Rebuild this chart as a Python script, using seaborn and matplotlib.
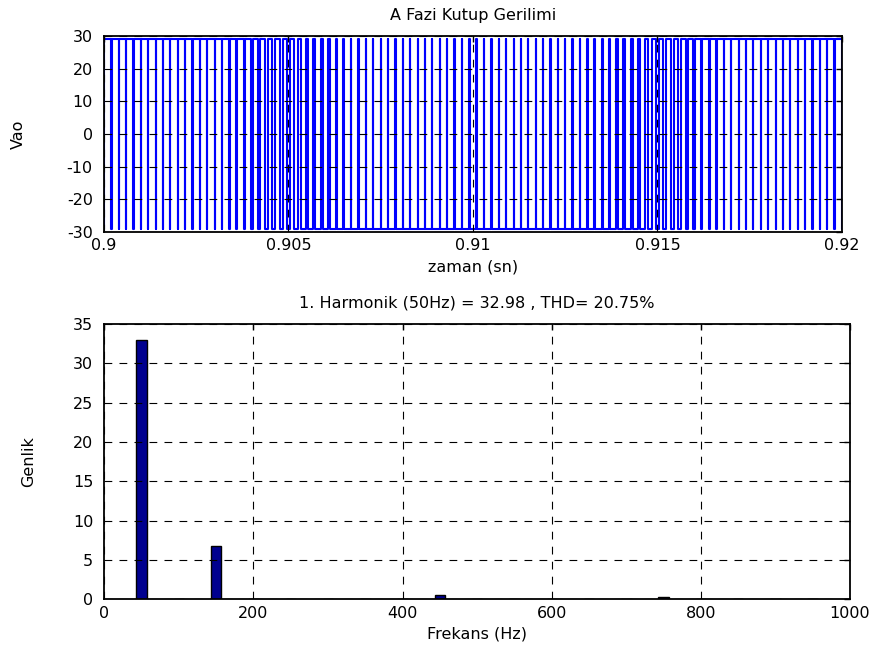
import numpy as np
import pandas as pd
import matplotlib
matplotlib.use("Agg")
import matplotlib.pyplot as plt
import seaborn as sns

# Pole voltage window (one 50 Hz period) and DC half-bus level
t_start, t_end = 0.9, 0.92
v_half = 29.0

# Duty ratio (fraction of time at +Vdc/2) for each 5 kHz carrier period
duty = [
    0.934, 0.948, 0.960, 0.970, 0.978, 0.985, 0.989, 0.992, 0.992, 0.991,
    0.988, 0.983, 0.976, 0.967, 0.956, 0.943, 0.929, 0.887, 0.839, 0.789,
    0.738, 0.686, 0.633, 0.580, 0.527, 0.473, 0.420, 0.367, 0.314, 0.262,
    0.211, 0.161, 0.113, 0.071, 0.057, 0.044, 0.033, 0.024, 0.017, 0.012,
    0.009, 0.008, 0.008, 0.011, 0.015, 0.022, 0.030, 0.040, 0.052, 0.066,
    0.066, 0.052, 0.040, 0.030, 0.022, 0.015, 0.011, 0.008, 0.008, 0.009,
    0.012, 0.017, 0.024, 0.033, 0.044, 0.057, 0.071, 0.113, 0.161, 0.211,
    0.262, 0.314, 0.367, 0.420, 0.473, 0.527, 0.580, 0.633, 0.686, 0.738,
    0.789, 0.839, 0.887, 0.929, 0.943, 0.956, 0.967, 0.976, 0.983, 0.988,
    0.991, 0.992, 0.992, 0.989, 0.985, 0.978, 0.970, 0.960, 0.948, 0.934,
]

# Harmonic spectrum of the pole voltage
harm_freq = [50, 100, 150, 200, 250, 300, 350, 400, 450, 500,
             550, 600, 650, 700, 750, 800, 850, 900, 950, 1000]
harm_amp = [32.98, 0.0, 6.812, 0.0, 0.0, 0.0, 0.0, 0.0, 0.60, 0.0,
            0.0, 0.0, 0.0, 0.0, 0.27, 0.0, 0.0, 0.0, 0.0, 0.0]

time_ticks = [0.9, 0.905, 0.91, 0.915, 0.92]
time_ticklabels = ["0.9", "0.905", "0.91", "0.915", "0.92"]
volt_ticks = [-30, -20, -10, 0, 10, 20, 30]
freq_ticks = [0, 200, 400, 600, 800, 1000]
amp_ticks = [0, 5, 10, 15, 20, 25, 30, 35]

fund = harm_amp[0]
thd = 100 * np.sqrt(sum(a * a for a in harm_amp[1:])) / fund

# Build the switched waveform vertex by vertex (centre-aligned pulses)
T = (t_end - t_start) / len(duty)
ts, vs = [t_start], [-v_half]
for k, d in enumerate(duty):
    t0 = t_start + k * T
    rise = t0 + (1 - d) * T / 2
    fall = t0 + (1 + d) * T / 2
    ts += [rise, rise, fall, fall]
    vs += [-v_half, v_half, v_half, -v_half]
ts.append(t_end)
vs.append(-v_half)
wave = pd.DataFrame({"t": ts, "v": vs})
spec = pd.DataFrame({"f": harm_freq, "a": harm_amp})

sns.set_style("white")
plt.rcParams["font.family"] = ["DejaVu Sans"]
plt.rcParams["axes.unicode_minus"] = False
plt.rcParams["axes.edgecolor"] = "black"
for key in ("text.color", "axes.labelcolor", "xtick.color", "ytick.color",
            "xtick.labelcolor", "ytick.labelcolor"):
    plt.rcParams[key] = "black"
FS = 11.5

fig = plt.figure(figsize=(8.79, 6.49), dpi=100)
ax1 = fig.add_axes([0.1183, 0.6425, 0.8396, 0.302])
ax2 = fig.add_axes([0.1187, 0.0766, 0.8483, 0.4242])

grid_kw = dict(color="black", linestyle=(0, (7, 6.5)), linewidth=0.8)

# Upper panel: pole voltage
sns.lineplot(data=wave, x="t", y="v", estimator=None, sort=False,
             color="#0000ff", linewidth=1.5, ax=ax1)
ax1.set_xlim(t_start, t_end)
ax1.set_ylim(-30, 30)
ax1.set_xticks(time_ticks)
ax1.set_xticklabels(time_ticklabels)
ax1.set_yticks(volt_ticks)
ax1.set_title("A Fazi Kutup Gerilimi", fontsize=FS, pad=11.5, color="black")
ax1.set_xlabel("zaman (sn)", fontsize=FS, color="black")
ax1.set_ylabel("Vao", fontsize=FS, color="black")
ax1.xaxis.set_label_coords(0.5, -0.14)
ax1.yaxis.set_label_coords(-0.106, 0.5)

# Lower panel: harmonic amplitudes
sns.barplot(data=spec, x="f", y="a", native_scale=True, width=0.28,
            color="#00008f", saturation=1, edgecolor="black", linewidth=1.0,
            errorbar=None, ax=ax2)
ax2.set_xlim(0, 1000)
ax2.set_ylim(0, 35)
ax2.set_xticks(freq_ticks)
ax2.set_yticks(amp_ticks)
ax2.set_title(f"1. Harmonik (50Hz) = {fund:.2f} , THD= {thd:.2f}%",
              fontsize=FS, pad=12, color="black")
ax2.set_xlabel("Frekans (Hz)", fontsize=FS, color="black")
ax2.set_ylabel("Genlik", fontsize=FS, color="black")
ax2.xaxis.set_label_coords(0.5, -0.1)
ax2.yaxis.set_label_coords(-0.092, 0.5)

for ax in (ax1, ax2):
    ax.grid(True, **grid_kw)
    ax.set_axisbelow(False)
    ax.tick_params(direction="in", top=True, right=True, length=4,
                   width=1.0, labelsize=FS, colors="black")
    ax.tick_params(axis="x", pad=4.5)
    ax.tick_params(axis="y", pad=8)
    for sp in ax.spines.values():
        sp.set_visible(True)
        sp.set_linewidth(1.3)
        sp.set_color("black")

fig.savefig("out.png", dpi=100, facecolor="white")
